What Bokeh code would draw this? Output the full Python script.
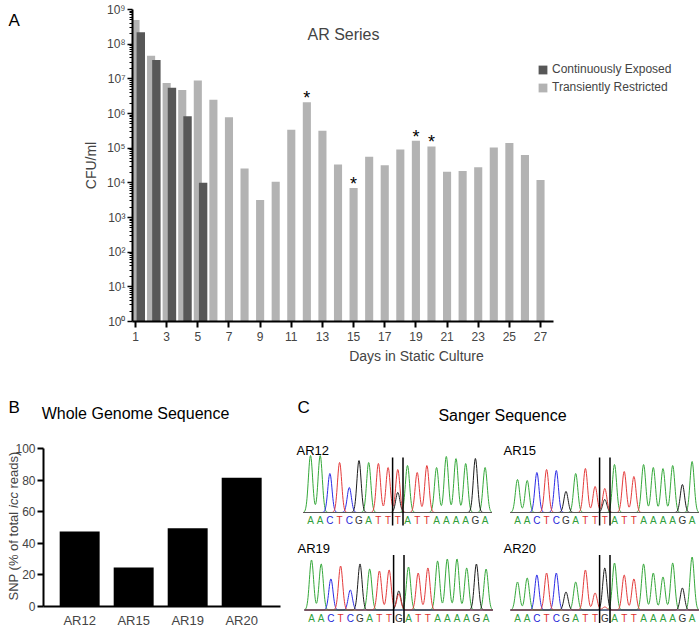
import math
import numpy as np
from bokeh.plotting import figure
from bokeh.models import (Range1d, FixedTicker, CustomJSTickFormatter, Label, Legend,
                          LegendItem, ColumnDataSource)
from bokeh.transform import dodge
from bokeh.layouts import column, row
from bokeh.embed import file_html
from bokeh.resources import INLINE
from bokeh.core.properties import value

FONT = "Liberation Sans"

# ---------------- Panel A data ----------------
days = list(range(1, 28))
transient_cfu = [5.0e8, 4.6e7, 7.6e6, 4.8e6, 9.0e6, 2.5e6, 7.8e5, 2.6e4, 3.2e3, 1.07e4,
                 3.4e5, 2.1e6, 3.2e5, 3.4e4, 7.1e3, 5.7e4, 3.2e4, 9.1e4, 1.65e5, 1.12e5,
                 2.1e4, 2.2e4, 2.8e4, 1.05e5, 1.4e5, 6.3e4, 1.2e4]
continuous_days = [1, 2, 3, 4, 5]
continuous_cfu = [2.2e8, 3.5e7, 5.5e6, 8.3e5, 1.0e4]
star_days = [12, 15, 19, 20]
x_tick_days = [1, 3, 5, 7, 9, 11, 13, 15, 17, 19, 21, 23, 25, 27]
y_decades = [0, 1, 2, 3, 4, 5, 6, 7, 8, 9]

# ---------------- Panel B data ----------------
wgs_samples = ["AR12", "AR15", "AR19", "AR20"]
wgs_snp_pct = [47.5, 24.7, 49.6, 81.5]
b_ticks = [0, 20, 40, 60, 80, 100]

# ---------------- Panel C data ----------------
flank_left = "AACTCGATT"
flank_right = "ATTAAAAGA"
sanger_samples = ["AR12", "AR15", "AR19", "AR20"]
sanger_call = {"AR12": "T", "AR15": "T", "AR19": "G", "AR20": "G"}
peak_heights = {
    "AR12": [57, 57, 39, 50, 25, 52, 50, 49, 45, 43, 47, 40, 47, 45, 56, 54, 49, 54, 45],
    "AR15": [33, 32, 40, 43, 42, 21, 39, 44, 26, 24, 48, 41, 36, 48, 45, 44, 47, 28, 51],
    "AR19": [50, 46, 31, 44, 20, 46, 41, 39, 40, 19, 43, 37, 42, 49, 51, 51, 42, 46, 41],
    "AR20": [28, 32, 35, 37, 37, 18, 28, 40, 17, 42, 47, 35, 31, 46, 37, 33, 47, 22, 53],
}
alt_base = {"AR12": "G", "AR15": "G", "AR19": "T", "AR20": "T"}
alt_height = {"AR12": 20, "AR15": 13, "AR19": 16, "AR20": 3}

LIGHT = "#b3b3b3"
DARK = "#575757"


def canvas(w, h):
    c = figure(width=w, height=h, x_range=Range1d(0, w), y_range=Range1d(h, 0),
               output_backend="svg", toolbar_location=None,
               x_axis_location=None, y_axis_location=None,
               min_border_left=0, min_border_right=0, min_border_top=0, min_border_bottom=0)
    c.outline_line_color = None
    c.grid.visible = False
    return c


def put_text(c, x, y, t, size, align="left", color="black"):
    c.text(x=[x], y=[y], text=[t], text_align=align, text_baseline="middle",
           text_font=value(FONT), text_font_size=size, text_color=color)


# =============== Panel A ===============
fA = canvas(30, 370)
put_text(fA, 8, 13, "A", "17px")

pA = figure(width=670, height=370, y_axis_type="log",
            x_range=Range1d(0.807, 37.27), y_range=Range1d(1, 1e9),
            output_backend="svg", toolbar_location=None,
            min_border_left=102, min_border_right=0, min_border_top=9, min_border_bottom=49)
pA.outline_line_color = None
pA.grid.visible = False

srcT = ColumnDataSource(dict(x=days, top=transient_cfu))
rT = pA.vbar(x="x", top="top", bottom=1, width=0.52, source=srcT,
             fill_color=LIGHT, line_color=None)
srcC = ColumnDataSource(dict(x=continuous_days, top=continuous_cfu))
rC = pA.vbar(x=dodge("x", 0.34), top="top", bottom=1, width=0.54, source=srcC,
             fill_color=DARK, line_color=None)

star_vals = [transient_cfu[days.index(d)] for d in star_days]
pA.text(x=star_days, y=star_vals, text=["*"] * len(star_days), text_align="center",
        text_baseline="alphabetic", y_offset=-4, text_font=value(FONT),
        text_font_size="18px", text_color="black")

xa = pA.xaxis[0]
xa.ticker = FixedTicker(ticks=x_tick_days)
xa.bounds = (0.807, 27.83)
xa.axis_label = "Days in Static Culture"
xa.axis_label_text_font = FONT
xa.axis_label_text_font_size = "14px"
xa.axis_label_text_font_style = "normal"
xa.axis_label_standoff = 4
xa.major_label_text_font = FONT
xa.major_label_text_font_size = "12px"
xa.major_label_standoff = 4
xa.axis_line_width = 2
xa.major_tick_line_width = 2
xa.major_tick_out = 6
xa.major_tick_in = 0
xa.minor_tick_out = 0
xa.minor_tick_in = 0

ya = pA.yaxis[0]
ya.ticker = FixedTicker(ticks=[10.0 ** d for d in y_decades],
                        minor_ticks=[k * 10.0 ** d for d in y_decades[:-1] for k in range(2, 10)])
ya.formatter = CustomJSTickFormatter(code="""
const sup = {'0':'\u2070','1':'\u00b9','2':'\u00b2','3':'\u00b3','4':'\u2074','5':'\u2075',
             '6':'\u2076','7':'\u2077','8':'\u2078','9':'\u2079','-':'\u207b'};
const e = Math.round(Math.log10(tick));
return '10' + String(e).split('').map(c => sup[c]).join('');
""")
ya.axis_label = "CFU/ml"
ya.axis_label_text_font = FONT
ya.axis_label_text_font_size = "14px"
ya.axis_label_text_font_style = "normal"
ya.axis_label_standoff = 5
ya.major_label_text_font = FONT
ya.major_label_text_font_size = "12px"
ya.major_label_standoff = 2
ya.axis_line_width = 2
ya.major_tick_line_width = 1.5
ya.major_tick_out = 5
ya.major_tick_in = 0
ya.minor_tick_out = 3
ya.minor_tick_in = 0
ya.minor_tick_line_width = 1

pA.add_layout(Label(x=211, y=287, x_units="screen", y_units="screen", text="AR Series",
                    text_align="center", text_baseline="middle", text_font=FONT,
                    text_font_size="16px"))

legend = Legend(items=[LegendItem(label="Continuously Exposed", renderers=[rC]),
                       LegendItem(label="Transiently Restricted", renderers=[rT])],
                location=(405, 227), orientation="vertical",
                glyph_width=11, glyph_height=11, label_height=11, label_standoff=4,
                spacing=4, padding=0, margin=0,
                label_text_font=FONT, label_text_font_size="12px",
                border_line_alpha=0, background_fill_alpha=0)
pA.add_layout(legend)

# =============== Header for panels B and C ===============
hdr = canvas(700, 60)
put_text(hdr, 8, 37, "B", "17px")
put_text(hdr, 135, 43, "Whole Genome Sequence", "16px", align="center")
put_text(hdr, 297, 37, "C", "17px")
put_text(hdr, 502, 45, "Sanger Sequence", "16px", align="center")

# =============== Panel B ===============
pB = figure(width=290, height=197, x_range=Range1d(-0.466, 4.904),
            y_range=Range1d(-13.29, 111.39),
            output_backend="svg", toolbar_location=None,
            min_border_left=0, min_border_right=0, min_border_top=0, min_border_bottom=0)
pB.outline_line_color = None
pB.grid.visible = False
b_pos = list(range(1, len(wgs_samples) + 1))
pB.vbar(x=b_pos, top=wgs_snp_pct, bottom=0, width=0.74, fill_color="black", line_color=None)

bx = pB.xaxis[0]
bx.fixed_location = 0
bx.bounds = (0.33, 4.72)
bx.ticker = FixedTicker(ticks=b_pos)
bx.major_label_overrides = {p: s for p, s in zip(b_pos, wgs_samples)}
bx.major_label_text_font = FONT
bx.major_label_text_font_size = "13px"
bx.major_label_standoff = 6
bx.axis_line_width = 2
bx.major_tick_out = 0
bx.major_tick_in = 0
bx.minor_tick_out = 0
bx.minor_tick_in = 0

by = pB.yaxis[0]
by.fixed_location = 0.33
by.bounds = (0, 100)
by.ticker = FixedTicker(ticks=b_ticks)
by.major_label_text_font = FONT
by.major_label_text_font_size = "12px"
by.major_label_standoff = 2
by.axis_line_width = 2
by.major_tick_line_width = 2
by.major_tick_out = 6
by.major_tick_in = 0
by.minor_tick_out = 0
by.minor_tick_in = 0

for txt, yy, style in [("SNP (% of total", 27, "normal"), ("icc", 119.5, "italic"),
                       ("reads)", 139, "normal")]:
    pB.add_layout(Label(x=13, y=yy, x_units="screen", y_units="screen", text=txt,
                        angle=math.pi / 2, text_align="left", text_baseline="middle",
                        text_font=FONT, text_font_size="13px", text_font_style=style))

# =============== Panel C ===============
pC = canvas(410, 197)

trace_col = {"A": "#35a83a", "C": "#2b2be6", "G": "#1c1c1c", "T": "#e43b3b"}
letter_col = {"A": "#2f9e3a", "C": "#2424d8", "G": "#333333", "T": "#dd3030"}
spacing = 9.7
sigma = 2.1
panel_pos = {"AR12": (20, 82), "AR15": (227, 82), "AR19": (21, 179.5), "AR20": (227, 179.5)}
snp_idx = len(flank_left)

for name in sanger_samples:
    x0, base = panel_pos[name]
    seq = flank_left + sanger_call[name] + flank_right
    hs = peak_heights[name]
    xp = x0 + spacing * np.arange(len(seq))
    xx = np.arange(xp[0] - 7, xp[-1] + 7, 0.35)
    for ch in "ACGT":
        yv = np.zeros_like(xx)
        for i, (b, h) in enumerate(zip(seq, hs)):
            if b == ch:
                yv += h * np.exp(-(xx - xp[i]) ** 2 / (2 * sigma ** 2))
        if alt_base[name] == ch:
            yv += alt_height[name] * np.exp(-(xx - xp[snp_idx]) ** 2 / (2 * sigma ** 2))
        pC.line(xx, base - yv, line_color=trace_col[ch], line_width=1)
    pC.line([xx[0], xx[-1]], [base, base], line_color="#555555", line_width=1.2)
    pC.text(x=list(xp), y=[base + 8] * len(seq), text=list(seq),
            text_color=[letter_col[b] for b in seq], text_align="center",
            text_baseline="middle", text_font=value(FONT), text_font_size="10px")
    xs = xp[snp_idx]
    pC.segment(x0=[xs - 5.2, xs + 5.2], y0=[base - 55] * 2, x1=[xs - 5.2, xs + 5.2],
               y1=[base + 13] * 2, line_color="black", line_width=1.5)
    put_text(pC, x0 - 14, base - 62, name, "13px")

layout = column(row(fA, pA), hdr, row(pB, pC))
open("out.html", "w").write(file_html(layout, INLINE))
